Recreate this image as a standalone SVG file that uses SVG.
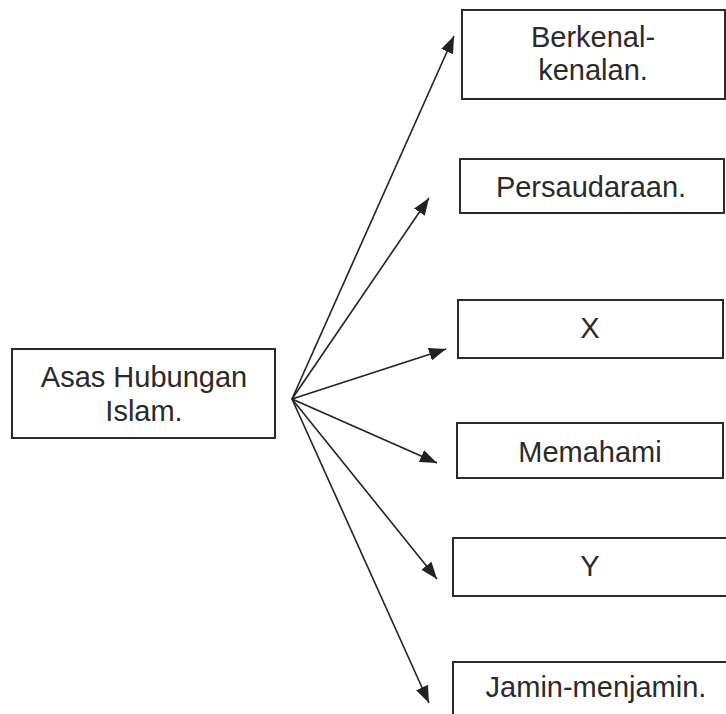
<svg xmlns="http://www.w3.org/2000/svg" width="726" height="714" viewBox="0 0 726 714">
<defs>
<style>
.box{fill:#fff;stroke:#2a2a2a;stroke-width:2}
.t{font-family:"Liberation Sans",Arial,sans-serif;font-size:29px;fill:#2a2a2a;text-anchor:middle}
.c{stroke:#222;stroke-width:1.6;fill:none;marker-end:url(#ah)}
</style>
<marker id="ah" markerUnits="userSpaceOnUse" markerWidth="18" markerHeight="14" viewBox="0 0 18 14" refX="17" refY="7" orient="auto">
<path d="M0,0.5 L17,7 L0,13.5 Z" fill="#222"/>
</marker>
</defs>
<rect width="726" height="714" fill="#fff"/>
<g id="connectors">
<line class="c" x1="292" y1="399" x2="454" y2="36"/>
<line class="c" x1="292" y1="399" x2="429" y2="198"/>
<line class="c" x1="292" y1="399" x2="446" y2="349"/>
<line class="c" x1="292" y1="399" x2="437" y2="463"/>
<line class="c" x1="292" y1="399" x2="437" y2="579"/>
<line class="c" x1="292" y1="399" x2="429" y2="703"/>
</g>
<g id="asas">
<rect class="box" x="12" y="349" width="263" height="89"/>
<text class="t" x="144" y="387">Asas Hubungan</text>
<text class="t" x="144" y="421">Islam.</text>
</g>
<g id="berkenal">
<rect class="box" x="462" y="10" width="263" height="89"/>
<text class="t" x="593" y="47">Berkenal-</text>
<text class="t" x="593" y="80">kenalan.</text>
</g>
<g id="persaudaraan">
<rect class="box" x="460" y="159" width="264" height="54"/>
<text class="t" x="591" y="197">Persaudaraan.</text>
</g>
<g id="x">
<rect class="box" x="458" y="300" width="265" height="58"/>
<text class="t" x="590" y="338">X</text>
</g>
<g id="memahami">
<rect class="box" x="457" y="423" width="266" height="55"/>
<text class="t" x="590" y="462">Memahami</text>
</g>
<g id="y">
<rect class="box" x="453" y="538" width="280" height="58"/>
<text class="t" x="590" y="576">Y</text>
</g>
<g id="jamin">
<rect class="box" x="453" y="662" width="286" height="60"/>
<text class="t" x="596" y="697">Jamin-menjamin.</text>
</g>
</svg>
